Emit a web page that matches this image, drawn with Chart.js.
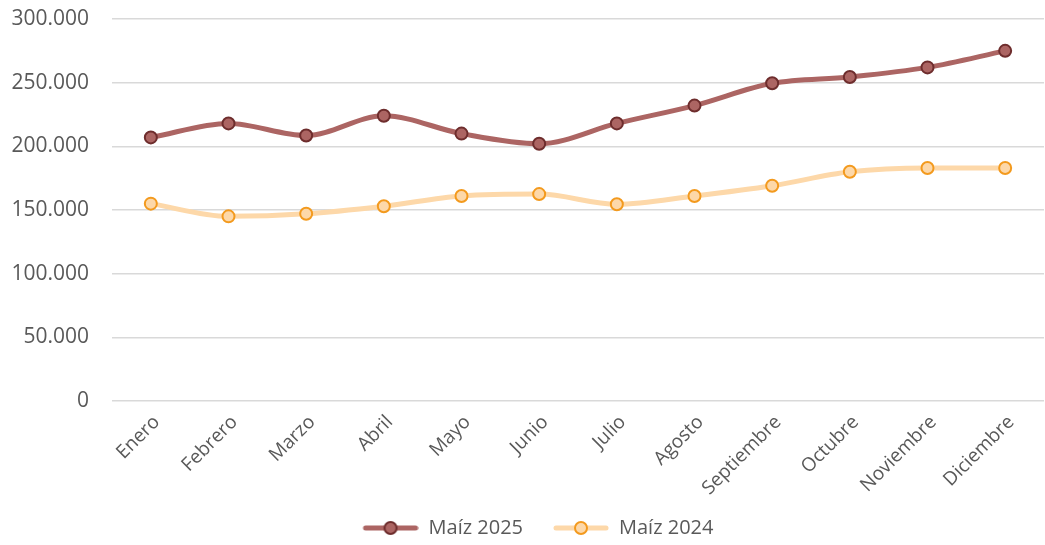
<!DOCTYPE html>
<html>
<head>
<meta charset="utf-8">
<script src="https://cdn.jsdelivr.net/npm/chart.js@4/dist/chart.umd.min.js"></script>
<style>
  html, body { margin: 0; padding: 0; background: #fff; overflow: hidden; }
  #wrap { width: 1052px; height: 545px; position: relative; }
</style>
</head>
<body>
<div id="wrap"><canvas id="myChart"></canvas></div>
<script>
// DATA
const months = ['Enero', 'Febrero', 'Marzo', 'Abril', 'Mayo', 'Junio', 'Julio', 'Agosto', 'Septiembre', 'Octubre', 'Noviembre', 'Diciembre'];
const maiz2025 = [207000, 218000, 208500, 224000, 210000, 202000, 218000, 232000, 249500, 254500, 262000, 275000];
const maiz2024 = [155000, 145000, 147000, 153000, 161000, 162500, 154500, 161000, 169000, 180000, 183000, 183000];
const yTicks = [0, 50000, 100000, 150000, 200000, 250000, 300000];

const fontFamily = "'Open Sans', sans-serif";
const textColor = '#595959';

// thousands with dots, like the original
const fmt = function (v) {
    return String(v).replace(/\B(?=(\d{3})+(?!\d))/g, '.');
}

// legend marker: line with circle on it (left part of the image is empty, it spaces the items)
const markerGap = 20;
function legendMarker(lineColor, fill, stroke) {
    const c = document.createElement('canvas');
    c.width = markerGap + 56;
    c.height = 16;
    const g = c.getContext('2d');
    g.strokeStyle = lineColor;
    g.lineWidth = 5;
    g.lineCap = 'round';
    g.beginPath();
    g.moveTo(markerGap + 3, 8);
    g.lineTo(markerGap + 53, 8);
    g.stroke();
    g.beginPath();
    g.arc(markerGap + 28, 8, 6, 0, Math.PI * 2);
    g.fillStyle = fill;
    g.fill();
    g.lineWidth = 2;
    g.strokeStyle = stroke;
    g.stroke();
    return c;
}

const series = [
    {label: 'Maíz 2025', data: maiz2025, line: '#AC6563', fill: '#AC6563', stroke: '#6E2D2D'},
    {label: 'Maíz 2024', data: maiz2024, line: '#FDD8A9', fill: '#FDD8A9', stroke: '#F39A1E'}
];

const datasets = series.map(function (s) {
    return {
        label: s.label,
        data: s.data,
        borderColor: s.line,
        backgroundColor: s.fill,
        borderWidth: 5,
        tension: 0.4,
        cubicInterpolationMode: 'monotone',
        pointRadius: 6,
        pointHoverRadius: 6,
        pointBackgroundColor: s.fill,
        pointBorderColor: s.stroke,
        pointBorderWidth: 2,
        pointStyle: 'circle',
        marker: legendMarker(s.line, s.fill, s.stroke)
    };
});

// nudge the legend to where the original has it
const legendShift = {
    id: 'legendShift',
    afterLayout(chart) {
        chart.legend.left += 2;
        chart.legend.right += 2;
    }
};

new Chart(document.getElementById('myChart'), {
    type: 'line',
    data: {labels: months, datasets: datasets},
    plugins: [legendShift],
    options: {
        responsive: true,
        maintainAspectRatio: false,
        animation: false,
        layout: {padding: {top: 19, right: 0, bottom: -3, left: 0}},
        plugins: {
            tooltip: {enabled: false},
            legend: {
                position: 'bottom',
                labels: {
                    usePointStyle: true,
                    pointStyleWidth: markerGap + 56,
                    padding: 10,
                    color: textColor,
                    font: {family: fontFamily, size: 20},
                    generateLabels(chart) {
                        return chart.data.datasets.map(function (ds, i) {
                            return {
                                text: ds.label,
                                pointStyle: ds.marker,
                                fillStyle: ds.backgroundColor,
                                strokeStyle: ds.borderColor,
                                lineWidth: 0,
                                fontColor: textColor,
                                datasetIndex: i
                            };
                        });
                    }
                }
            }
        },
        scales: {
            x: {
                offset: true,
                grid: {display: false},
                border: {display: false},
                ticks: {
                    color: textColor,
                    font: {family: fontFamily, size: 19},
                    minRotation: 45,
                    maxRotation: 45,
                    padding: 2,
                    labelOffset: 6
                },
                afterFit(scale) { scale.height = 107; }
            },
            y: {
                min: 0,
                max: 300000,
                afterBuildTicks(scale) { scale.ticks = yTicks.map(v => ({value: v})); },
                grid: {color: '#D9D9D9', lineWidth: 1.5, drawTicks: true, tickLength: 23, tickColor: 'rgba(0,0,0,0)'},
                border: {display: false},
                ticks: {
                    color: textColor,
                    font: {family: fontFamily, size: 21},
                    padding: 0,
                    callback: v => fmt(v)
                },
                afterFit(scale) { scale.width = 112; }
            }
        }
    }
});
</script>
</body>
</html>
